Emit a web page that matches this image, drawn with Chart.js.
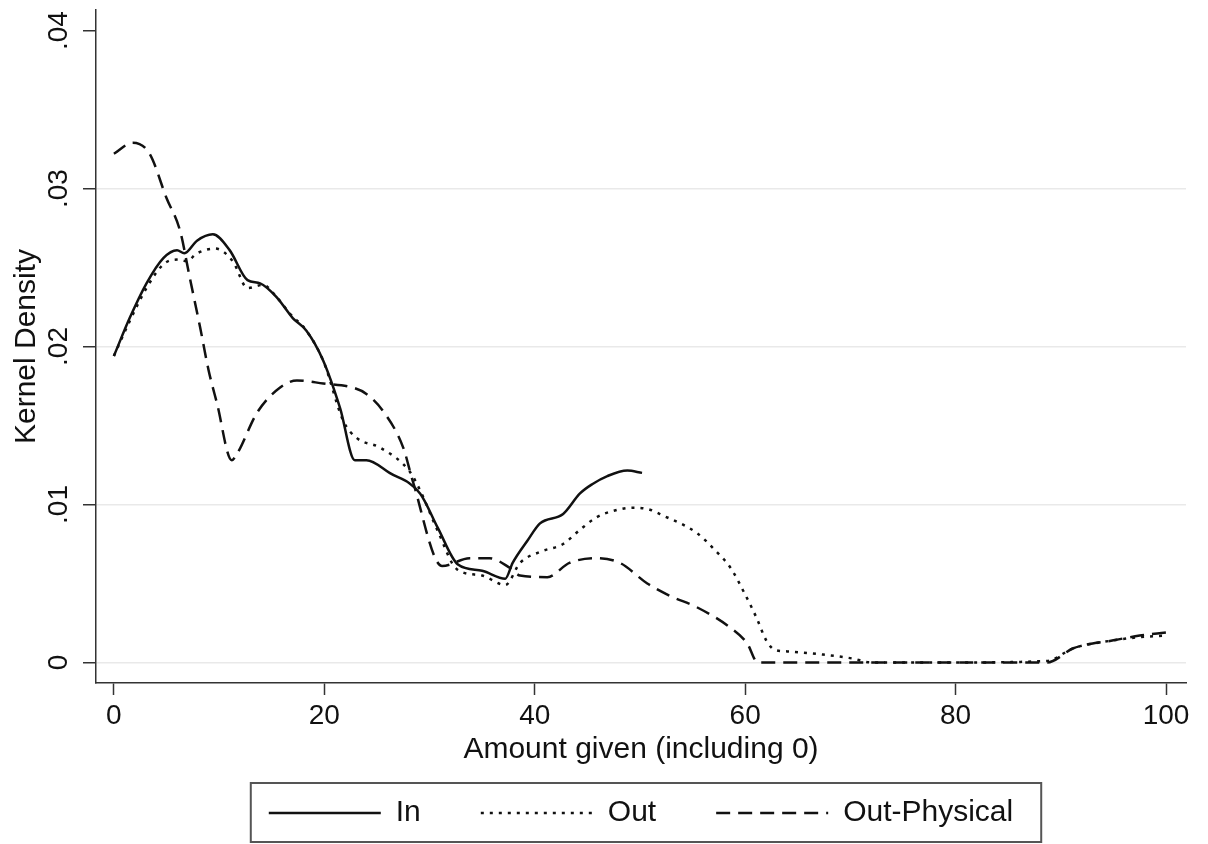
<!DOCTYPE html>
<html>
<head>
<meta charset="utf-8">
<script src="https://cdn.jsdelivr.net/npm/chart.js@4.4.1/dist/chart.umd.min.js"></script>
<style>
    html, body { margin: 0; padding: 0; background: #fff; }
    canvas { display: block; }
</style>
</head>
<body>
<canvas id="densityChart" width="1208" height="844"></canvas>
<script>
// -------------------------------
// Data
// -------------------------------
const seriesNames = ["In", "Out", "Out-Physical"];

const inX = [0, 1.5, 3.1, 4.7, 6.0, 6.7, 7.9, 9.4, 11.0, 12.7, 13.9, 15.5, 17.0, 18.3, 19.9, 21.5, 22.9, 24.0, 26.2, 29.1, 30.8, 32.7, 35.0, 37.2, 37.9, 39.3, 40.5, 42.7, 44.3, 45.5, 46.9, 48.8, 50.2];
const inY = [0.0194, 0.0218, 0.0240, 0.0256, 0.0261, 0.0259, 0.0267, 0.0271, 0.0261, 0.0242, 0.0240, 0.0231, 0.0218, 0.0210, 0.0191, 0.0161, 0.0128, 0.0128, 0.0120, 0.0107, 0.0085, 0.0062, 0.0058, 0.0053, 0.0063, 0.0077, 0.0088, 0.0094, 0.0107, 0.0113, 0.0118, 0.01215, 0.0120];

const outX = [0, 1.5, 3.1, 4.7, 6.0, 6.9, 7.9, 9.6, 11.3, 12.7, 14.2, 15.5, 16.7, 18.3, 19.9, 21.8, 23.1, 25.3, 28.1, 29.1, 30.8, 32.6, 35.0, 37.2, 38.6, 40.5, 42.7, 44.3, 45.9, 47.5, 49.3, 50.8, 52.2, 55.4, 57.0, 58.6, 60.0, 61.1, 62.0, 62.8, 64.0, 67.4, 70.2, 72.0, 80.0, 88.7, 91.2, 95.0, 97.5, 100];
const outY = [0.0194, 0.0216, 0.0237, 0.0252, 0.0255, 0.0254, 0.0259, 0.0262, 0.0254, 0.0237, 0.0239, 0.0231, 0.0221, 0.0210, 0.0191, 0.0153, 0.0142, 0.0136, 0.0121, 0.0109, 0.0083, 0.0059, 0.0055, 0.0049, 0.0063, 0.0070, 0.0075, 0.0084, 0.0092, 0.0096, 0.0098, 0.0097, 0.0093, 0.0082, 0.0072, 0.0060, 0.0043, 0.0028, 0.0014, 0.0008, 0.0007, 0.0005, 0.00025, 0, 0, 0.0001, 0.0009, 0.0014, 0.0016, 0.0017];

const physX = [0, 1.8, 3.4, 5.0, 6.3, 7.2, 8.2, 9.0, 9.8, 11.2, 11.7, 13.6, 15.8, 17.4, 19.9, 22.7, 24.0, 25.6, 27.5, 28.4, 31.2, 33.8, 35.7, 37.6, 38.6, 41.2, 43.3, 45.9, 48.1, 50.7, 52.9, 55.4, 58.6, 60.2, 61.2, 70.0, 80.0, 88.7, 91.2, 95.0, 97.5, 100];
const physY = [0.0322, 0.0329, 0.0322, 0.0294, 0.0273, 0.0244, 0.0212, 0.0185, 0.0164, 0.0128, 0.0132, 0.0158, 0.0174, 0.01785, 0.01766, 0.0174, 0.0170, 0.0159, 0.0136, 0.0115, 0.0061, 0.0066, 0.0066, 0.0060, 0.0055, 0.0054, 0.0063, 0.0066, 0.0063, 0.0050, 0.0042, 0.0035, 0.0022, 0.0012, 0, 0, 0, 0, 0.0009, 0.0014, 0.0017, 0.0019];

const xTicks = [0, 20, 40, 60, 80, 100];
const yTicks = [0, 0.01, 0.02, 0.03, 0.04];
const yTickLabels = ["0", ".01", ".02", ".03", ".04"];

// -------------------------------
// Helpers
// -------------------------------
const FONT = "'Liberation Sans', Arial, Helvetica, sans-serif";
const INK = "#111";
const AXIS = "#333";
const LINE_W = 2.5;

function toPoints(xs, ys) {
    return xs.map((x, i) => ({ x: x, y: ys[i] }));
}

function lineDataset(label, xs, ys, dash) {
    return {
        label: label,
        data: toPoints(xs, ys),
        borderColor: INK,
        backgroundColor: INK,
        borderWidth: LINE_W,
        borderDash: dash,
        pointRadius: 0,
        pointStyle: "line",
        cubicInterpolationMode: "monotone",
        fill: false
    };
}

// legend entries keep the dash of their line
function dashedLabels(chart) {
    return Chart.defaults.plugins.legend.labels.generateLabels(chart).map(item => {
        item.lineDash = chart.data.datasets[item.datasetIndex].borderDash;
        item.lineWidth = LINE_W;
        item.strokeStyle = INK;
        return item;
    });
}

// frame round the legend, like Stata's legend box
const legendFrame = {
    id: "legendFrame",
    afterDraw(chart) {
        const boxes = chart.legend.legendHitBoxes;
        if (!boxes || !boxes.length) return;
        const c = chart.ctx;
        const left = Math.min(...boxes.map(b => b.left)) - 18;
        const right = Math.max(...boxes.map(b => b.left + b.width)) + 28;
        const top = boxes[0].top - 15;
        const bottom = boxes[0].top + boxes[0].height + 14;
        c.save();
        c.strokeStyle = "#555";
        c.lineWidth = 2;
        c.strokeRect(left, top, right - left, bottom - top);
        c.restore();
    }
};

// -------------------------------
// Chart
// -------------------------------
const ctx = document.getElementById("densityChart").getContext("2d");
const densityChart = new Chart(ctx, {
    type: "line",
    data: {
        datasets: [
            lineDataset(seriesNames[0], inX, inY, []),
            lineDataset(seriesNames[1], outX, outY, [3, 6]),
            lineDataset(seriesNames[2], physX, physY, [14, 8])
        ]
    },
    options: {
        responsive: false,
        animation: false,
        devicePixelRatio: 1,
        layout: { padding: { top: 10, right: 22, left: 0, bottom: 6 } },
        plugins: {
            tooltip: { enabled: false },
            legend: {
                position: "bottom",
                fullSize: false,
                labels: {
                    usePointStyle: true,
                    pointStyleWidth: 112,
                    boxHeight: 30,
                    padding: 60,
                    color: INK,
                    font: { family: FONT, size: 30 },
                    generateLabels: dashedLabels
                }
            }
        },
        scales: {
            x: {
                type: "linear",
                min: -1.7,
                max: 101.9,
                afterBuildTicks: scale => { scale.ticks = xTicks.map(v => ({ value: v })); },
                afterFit: scale => { scale.height = 55; },
                grid: { drawOnChartArea: false, tickLength: 12, tickColor: AXIS, tickWidth: 1.5 },
                border: { display: true, color: AXIS, width: 1.5 },
                ticks: { color: INK, font: { family: FONT, size: 28 }, padding: 4, maxRotation: 0 },
                title: {
                    display: true,
                    text: "Amount given (including 0)",
                    color: INK,
                    font: { family: FONT, size: 30 },
                    padding: { top: 0, bottom: -30 }
                }
            },
            y: {
                type: "linear",
                min: -0.0013,
                max: 0.0413,
                afterBuildTicks: scale => { scale.ticks = yTicks.map(v => ({ value: v })); },
                afterFit: scale => { scale.width = 96; },
                grid: {
                    color: c => (c.tick && c.tick.value >= 0.04 ? "rgba(0,0,0,0)" : "#e9e9e9"),
                    lineWidth: 1.5,
                    tickLength: 13,
                    tickColor: AXIS,
                    tickWidth: 1.5
                },
                border: { display: true, color: AXIS, width: 1.5 },
                ticks: {
                    color: INK,
                    font: { family: FONT, size: 28, lineHeight: 0.4 },
                    minRotation: 90,
                    maxRotation: 90,
                    crossAlign: "center",
                    padding: 4,
                    callback: (value, index) => yTickLabels[index]
                },
                title: {
                    display: true,
                    text: "Kernel Density",
                    color: INK,
                    font: { family: FONT, size: 30 },
                    padding: { top: 9, bottom: 0 }
                }
            }
        }
    },
    plugins: [legendFrame]
});
</script>
</body>
</html>
